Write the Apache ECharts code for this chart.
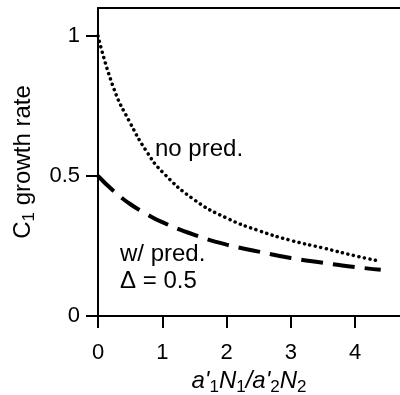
<!DOCTYPE html>
<html>
<head>
<meta charset="utf-8">
<script src="https://cdn.jsdelivr.net/npm/echarts@6/dist/echarts.min.js"></script>
<style>
  html, body { margin: 0; padding: 0; background: #fff; }
  #chart { width: 400px; height: 395px; }
</style>
</head>
<body>
<div id="chart"></div>
<script>
// x values (a'1N1/a'2N2)
const xVals = [0, 0.25, 0.5, 0.75, 1, 1.5, 2, 2.5, 3, 3.5, 4, 4.4];
// no predator (dotted)
const noPred = [1.0, 0.81, 0.69, 0.59, 0.515, 0.415, 0.35, 0.305, 0.27, 0.243, 0.215, 0.195];
// with predator, delta = 0.5 (dashed)
const withPred = [0.5, 0.445, 0.40, 0.365, 0.335, 0.29, 0.255, 0.23, 0.207, 0.19, 0.175, 0.165];
const xTicks = [0, 1, 2, 3, 4];
const yTicks = [0, 0.5, 1];

const font = 'Liberation Sans';
const fs = 22;   // tick labels
const fsT = 24;  // names and notes

const chart = echarts.init(document.getElementById('chart'));

const option = {
  backgroundColor: '#fff',
  animation: false,
  grid: { left: 98, top: 8, right: 0, bottom: 79, outerBoundsMode: 'none' },
  xAxis: [{
    type: 'value',
    min: 0,
    max: 4.7,
    interval: 1,
    splitLine: { show: false },
    axisLine: { onZero: false, lineStyle: { color: '#000', width: 2 } },
    axisTick: { length: 12, lineStyle: { color: '#000', width: 2 }, customValues: xTicks },
    axisLabel: { color: '#000', fontFamily: font, fontSize: fs, margin: 26, customValues: xTicks },
    name: '{i|a\'}{s|1}{i|N}{s|1}{i|/a\'}{s|2}{i|N}{s|2}',
    nameLocation: 'middle',
    nameGap: 48,
    nameTextStyle: {
      rich: {
        i: { fontFamily: font, fontStyle: 'italic', fontSize: fsT, color: '#000' },
        s: { fontFamily: font, fontSize: 17, color: '#000', padding: [13, 0, 0, 0] }
      }
    }
  }, {
    type: 'value',
    position: 'top',
    min: 0,
    max: 4.7,
    splitLine: { show: false },
    axisLine: { onZero: false, lineStyle: { color: '#000', width: 2 } },
    axisTick: { show: false },
    axisLabel: { show: false }
  }],
  yAxis: {
    type: 'value',
    min: 0,
    max: 1.1,
    interval: 0.5,
    splitLine: { show: false },
    axisLine: { onZero: false, lineStyle: { color: '#000', width: 2 } },
    axisTick: { length: 12, lineStyle: { color: '#000', width: 2 }, customValues: yTicks },
    axisLabel: { color: '#000', fontFamily: font, fontSize: fs, margin: 18, customValues: yTicks },
    name: '{t|C}{s|1}{t| growth rate}',
    nameLocation: 'middle',
    nameRotate: 90,
    nameGap: 60,
    nameTextStyle: {
      rich: {
        t: { fontFamily: font, fontSize: fsT, color: '#000' },
        s: { fontFamily: font, fontSize: 17, color: '#000', padding: [13, 0, 0, 0] }
      }
    }
  },
  graphic: [
    { type: 'text', left: 155, top: 137, style: { text: 'no pred.', font: fsT + 'px ' + font, fill: '#000' } },
    { type: 'text', left: 120, top: 242, style: { text: 'w/ pred.', font: fsT + 'px ' + font, fill: '#000' } },
    { type: 'text', left: 120, top: 269, style: { text: '\u0394 = 0.5', font: fsT + 'px ' + font, fill: '#000' } }
  ],
  series: [{
    type: 'line',
    data: xVals.map((x, i) => [x, noPred[i]]),
    smooth: true,
    showSymbol: false,
    lineStyle: { color: '#000', width: 3.5, type: [0.1, 5.5], cap: 'round' }
  }, {
    type: 'line',
    data: xVals.map((x, i) => [x, withPred[i]]),
    smooth: true,
    showSymbol: false,
    lineStyle: { color: '#000', width: 4, type: [22, 10] }
  }]
};
chart.setOption(option);
</script>
</body>
</html>
